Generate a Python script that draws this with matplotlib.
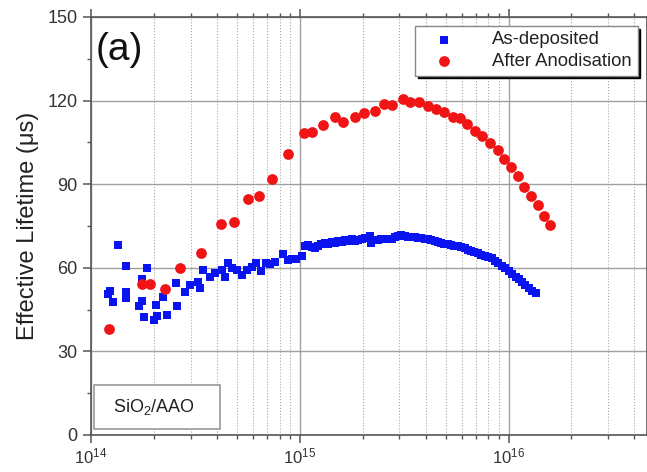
import matplotlib
matplotlib.use('Agg')
import matplotlib.pyplot as plt
from matplotlib.ticker import LogLocator, MultipleLocator, FixedLocator
from matplotlib.patches import Rectangle

plt.rcParams['font.family'] = ['Liberation Sans', 'DejaVu Sans']
plt.rcParams['mathtext.fontset'] = 'custom'
plt.rcParams['mathtext.rm'] = 'Liberation Sans'
plt.rcParams['mathtext.it'] = 'Liberation Sans:italic'

# As-deposited (blue squares)
dep_x = [1.21e14, 1.233e14, 1.28e14, 1.35e14, 1.47e14, 1.47e14, 1.47e14,
         1.70e14, 1.75e14, 1.76e14, 1.80e14, 1.85e14, 2.01e14, 2.05e14,
         2.06e14, 2.22e14, 2.30e14, 2.55e14, 2.59e14, 2.82e14, 2.98e14,
         3.26e14, 3.33e14, 3.45e14, 3.71e14, 3.92e14, 4.22e14, 4.38e14,
         4.54e14, 4.75e14, 5.0e14, 5.3e14, 5.6e14, 5.9e14, 6.2e14, 6.5e14,
         6.9e14, 7.2e14, 7.6e14, 8.3e14, 8.8e14, 9.2e14, 9.6e14, 1.02e15,
         1.06e15, 1.10e15, 1.14e15, 1.18e15, 1.22e15, 1.27e15, 1.32e15,
         1.37e15, 1.42e15, 1.48e15, 1.53e15, 1.59e15, 1.65e15, 1.71e15,
         1.77e15, 1.84e15, 1.91e15, 1.98e15, 2.05e15, 2.16e15, 2.20e15,
         2.28e15, 2.37e15, 2.46e15, 2.55e15, 2.65e15, 2.75e15, 2.85e15,
         2.95e15, 3.06e15, 3.18e15, 3.30e15, 3.42e15, 3.55e15, 3.68e15,
         3.82e15, 3.96e15, 4.10e15, 4.26e15, 4.42e15, 4.58e15, 4.75e15,
         4.93e15, 5.10e15, 5.30e15, 5.50e15, 5.70e15, 5.90e15, 6.15e15,
         6.40e15, 6.60e15, 6.85e15, 7.10e15, 7.40e15, 7.70e15, 8.00e15,
         8.30e15, 8.60e15, 8.90e15, 9.25e15, 9.60e15, 1.00e16, 1.04e16,
         1.08e16, 1.12e16, 1.16e16, 1.20e16, 1.25e16, 1.30e16, 1.36e16]
dep_y = [50.6, 51.7, 47.8, 68.2, 60.8, 51.4, 49.3,
         46.3, 55.9, 48.1, 42.4, 59.8, 41.3, 46.5,
         42.7, 49.6, 43.1, 54.7, 46.3, 51.4, 53.8,
         54.8, 52.6, 59.2, 56.8, 58.2, 59.2, 56.8,
         61.6, 59.8, 59.2, 57.4, 59.2, 60.2, 61.6, 58.8,
         61.6, 61.2, 62.2, 64.9, 62.8, 63.2, 63.0, 64.2,
         67.8, 68.2, 67.4, 67.0, 68.0, 68.4, 68.8,
         68.5, 69.2, 68.8, 69.5, 69.3, 70.0, 69.6,
         70.2, 69.7, 70.0, 70.3, 70.6, 71.5, 69.0,
         69.8, 70.0, 70.2, 70.3, 70.5, 70.4, 70.9,
         71.3, 71.6, 71.4, 71.2, 71.0, 71.0, 70.8,
         70.6, 70.4, 70.2, 69.9, 69.6, 69.3, 69.0,
         68.6, 68.4, 68.2, 68.0, 67.9, 67.6, 67.0,
         66.5, 66.0, 65.6, 65.2, 64.7, 64.2, 63.8,
         63.4, 62.6, 61.8, 60.8, 59.8, 58.8, 57.8,
         56.8, 55.8, 54.8, 53.8, 52.8, 51.8, 50.8]

# After Anodisation (red circles)
ano_x = [1.224e14, 1.75e14, 1.915e14, 2.25e14, 2.675e14, 3.35e14, 4.19e14,
         4.83e14, 5.68e14, 6.41e14, 7.35e14, 8.8e14, 1.042e15, 1.15e15,
         1.294e15, 1.47e15, 1.61e15, 1.83e15, 2.04e15, 2.28e15, 2.53e15,
         2.77e15, 3.11e15, 3.37e15, 3.74e15, 4.09e15, 4.49e15, 4.92e15,
         5.40e15, 5.85e15, 6.32e15, 6.88e15, 7.48e15, 8.17e15, 8.86e15,
         9.5e15, 1.03e16, 1.112e16, 1.19e16, 1.28e16, 1.377e16, 1.48e16,
         1.57e16]
ano_y = [37.9, 54.1, 54.1, 52.5, 59.8, 65.4, 75.6,
         76.4, 84.7, 85.8, 91.7, 100.7, 108.4, 108.6,
         111.2, 114.0, 112.4, 114.2, 115.5, 116.4, 118.6,
         118.5, 120.6, 119.6, 119.5, 118.0, 117.0, 115.9,
         114.2, 113.7, 111.6, 109.1, 107.4, 104.9, 102.3,
         99.0, 96.2, 92.8, 89.1, 85.9, 82.4, 78.7,
         75.2]

fig = plt.figure(figsize=(6.47, 4.72), dpi=100)
ax = fig.add_axes([0.1406, 0.0784, 0.8594, 0.8856])

ax.set_xscale('log')
ax.set_xlim(1e14, 4.6e16)
ax.set_ylim(0, 150)

ax.xaxis.set_major_locator(FixedLocator([1e14, 1e15, 1e16]))
ax.xaxis.set_minor_locator(LogLocator(base=10, subs=range(2, 10), numticks=20))
ax.set_xticks([1e14, 1e15, 1e16])
ax.set_xticklabels(['10$^{14}$', '10$^{15}$', '10$^{16}$'])
ax.yaxis.set_major_locator(MultipleLocator(30))
ax.yaxis.set_minor_locator(MultipleLocator(15))

ax.grid(True, which='major', color='#a0a0a0', linestyle='-', linewidth=1.0)
ax.grid(True, which='minor', axis='x', color='#a8a8a8', linestyle=':', linewidth=0.8)
ax.set_axisbelow(True)

for s in ax.spines.values():
    s.set_color('#555555')
    s.set_linewidth(1.2)

ax.tick_params(axis='both', which='major', colors='#555555',
               labelcolor='#333333', length=6, width=1.1)
ax.tick_params(axis='both', which='minor', colors='#555555', length=3, width=1.0)
ax.tick_params(axis='x', which='both', top=True, pad=2)
ax.tick_params(axis='y', which='both', right=True)
ax.tick_params(axis='y', which='major', labelsize=13)
ax.tick_params(axis='x', which='major', labelsize=12)

ax.scatter(dep_x, dep_y, marker='s', s=40, color='#0a14f0', linewidths=0,
           label='As-deposited', zorder=3)
ax.scatter(ano_x, ano_y, marker='o', s=60, color='#f01414', linewidths=0,
           label='After Anodisation', zorder=3)

ax.set_ylabel('Effective Lifetime (\u03bcs)', fontsize=17, color='#222222', labelpad=6)

ax.text(0.008, 0.965, '(a)', transform=ax.transAxes, fontsize=28,
        ha='left', va='top', color='#111111')

leg = ax.legend(loc='upper right', bbox_to_anchor=(0.993, 0.992), fontsize=13.3,
                frameon=True, fancybox=False, shadow={'color': 'black', 'alpha': 1},
                framealpha=1, edgecolor='#888888', handletextpad=1.3,
                borderpad=0.3, borderaxespad=0.3, labelspacing=0.25,
                handlelength=2.6)
leg.get_frame().set_linewidth(1.0)
for t in leg.get_texts():
    t.set_color('#222222')

ax.add_patch(Rectangle((0.0055, 0.0155), 0.226, 0.105, transform=ax.transAxes,
                       facecolor='white', edgecolor='#999999', linewidth=1.2,
                       zorder=4))
ax.text(0.113, 0.068, 'SiO$_2$/AAO', transform=ax.transAxes, fontsize=13,
        ha='center', va='center', color='#222222', zorder=5)

fig.savefig('out.png', dpi=100)
